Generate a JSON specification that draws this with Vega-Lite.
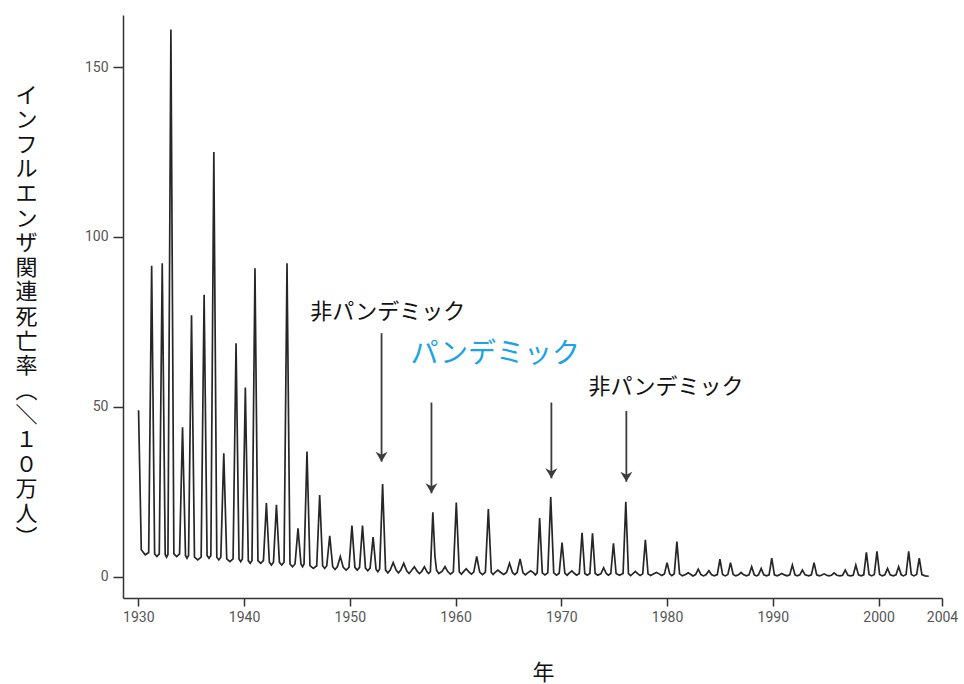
{
  "$schema": "https://vega.github.io/schema/vega-lite/v6.json",
  "width": 819,
  "height": 583,
  "autosize": {"type": "none"},
  "padding": {"left": 123, "top": 15, "right": 22, "bottom": 86},
  "background": "white",
  "config": {"view": {"stroke": null}},
  "datasets": {
    "series": [
      {"t":1930.02,"v":49},{"t":1930.28,"v":8},{"t":1930.65,"v":6.5},
      {"t":1930.98,"v":7.2},{"t":1931.26,"v":91.5},{"t":1931.54,"v":6.8},{"t":1931.76,"v":6},
      {"t":1931.98,"v":6.8},{"t":1932.26,"v":92.3},{"t":1932.54,"v":6.6},{"t":1932.67,"v":5.8},
      {"t":1932.8,"v":6.6},{"t":1933.08,"v":161},{"t":1933.36,"v":6.8},{"t":1933.63,"v":6},
      {"t":1933.9,"v":6.8},{"t":1934.18,"v":44},{"t":1934.46,"v":6.3},{"t":1934.6,"v":5.5},
      {"t":1934.75,"v":6.3},{"t":1935.03,"v":77},{"t":1935.31,"v":5.8},{"t":1935.62,"v":5},
      {"t":1935.94,"v":5.8},{"t":1936.22,"v":83},{"t":1936.5,"v":6.3},{"t":1936.68,"v":5.5},
      {"t":1936.86,"v":6.3},{"t":1937.14,"v":125},{"t":1937.42,"v":5.8},{"t":1937.61,"v":5},
      {"t":1937.8,"v":5.8},{"t":1938.08,"v":36.4},{"t":1938.36,"v":5.3},{"t":1938.66,"v":4.5},
      {"t":1938.96,"v":5.3},{"t":1939.24,"v":68.7},{"t":1939.52,"v":5.3},{"t":1939.68,"v":4.5},
      {"t":1939.84,"v":5.3},{"t":1940.12,"v":55.7},{"t":1940.4,"v":4.8},{"t":1940.58,"v":4},
      {"t":1940.75,"v":4.8},{"t":1941.03,"v":90.8},{"t":1941.31,"v":4.8},{"t":1941.57,"v":4},
      {"t":1941.83,"v":4.8},{"t":1942.11,"v":21.7},{"t":1942.39,"v":4.3},{"t":1942.58,"v":3.5},
      {"t":1942.78,"v":4.3},{"t":1943.06,"v":21.2},{"t":1943.34,"v":4.3},{"t":1943.56,"v":3.5},
      {"t":1943.78,"v":4.3},{"t":1944.06,"v":92.3},{"t":1944.34,"v":3.8},{"t":1944.58,"v":3},
      {"t":1944.82,"v":3.8},{"t":1945.1,"v":14.3},{"t":1945.38,"v":3.8},{"t":1945.53,"v":3},
      {"t":1945.67,"v":3.8},{"t":1945.95,"v":36.9},{"t":1946.23,"v":3.3},{"t":1946.55,"v":2.5},
      {"t":1946.87,"v":3.3},{"t":1947.15,"v":24.1},{"t":1947.43,"v":3.3},{"t":1947.62,"v":2.5},
      {"t":1947.82,"v":3.3},{"t":1948.1,"v":12.1},{"t":1948.38,"v":3},{"t":1948.6,"v":2.2},
      {"t":1948.82,"v":3},{"t":1949.1,"v":6},{"t":1949.38,"v":2.8},{"t":1949.65,"v":2},
      {"t":1949.92,"v":2.8},{"t":1950.2,"v":15.1},{"t":1950.48,"v":2.8},{"t":1950.7,"v":2},
      {"t":1950.92,"v":2.8},{"t":1951.2,"v":15.1},{"t":1951.48,"v":2.6},{"t":1951.7,"v":1.8},
      {"t":1951.92,"v":2.6},{"t":1952.2,"v":11.7},{"t":1952.48,"v":2.3},{"t":1952.65,"v":1.5},
      {"t":1952.82,"v":2.3},{"t":1953.1,"v":27.3},{"t":1953.38,"v":2},{"t":1953.6,"v":1.2},
      {"t":1953.82,"v":2},{"t":1954.1,"v":4.2},{"t":1954.38,"v":2},{"t":1954.6,"v":1.2},
      {"t":1954.82,"v":2},{"t":1955.1,"v":4},{"t":1955.38,"v":1.8},{"t":1955.6,"v":1},
      {"t":1955.82,"v":1.8},{"t":1956.1,"v":3},{"t":1956.38,"v":1.6},{"t":1956.58,"v":1},
      {"t":1956.8,"v":1.6},{"t":1957.05,"v":3},{"t":1957.3,"v":1.5},{"t":1957.45,"v":1},
      {"t":1957.62,"v":1.6},{"t":1957.85,"v":19},{"t":1958.05,"v":6},{"t":1958.2,"v":2},{"t":1958.42,"v":1},
      {"t":1958.72,"v":1.6},{"t":1959.0,"v":3},{"t":1959.28,"v":1.5},{"t":1959.52,"v":0.8},
      {"t":1959.79,"v":1.5},{"t":1960.07,"v":21.9},{"t":1960.35,"v":1.5},{"t":1960.55,"v":0.8},
      {"t":1960.72,"v":1.4},{"t":1961.0,"v":2.4},{"t":1961.28,"v":1.4},{"t":1961.5,"v":0.8},
      {"t":1961.72,"v":1.4},{"t":1962.0,"v":6},{"t":1962.28,"v":1.4},{"t":1962.55,"v":0.7},
      {"t":1962.82,"v":1.4},{"t":1963.1,"v":20},{"t":1963.38,"v":1.3},{"t":1963.55,"v":0.7},
      {"t":1963.72,"v":1.3},{"t":1964.0,"v":2},{"t":1964.28,"v":1.3},{"t":1964.55,"v":0.7},
      {"t":1964.82,"v":1.3},{"t":1965.1,"v":4},{"t":1965.38,"v":1.3},{"t":1965.6,"v":0.7},
      {"t":1965.82,"v":1.3},{"t":1966.1,"v":5.3},{"t":1966.38,"v":1.2},{"t":1966.6,"v":0.6},
      {"t":1966.82,"v":1.2},{"t":1967.1,"v":1.8},{"t":1967.38,"v":1.2},{"t":1967.55,"v":0.6},
      {"t":1967.72,"v":1.2},{"t":1967.95,"v":17.3},{"t":1968.2,"v":1.2},{"t":1968.45,"v":0.6},
      {"t":1968.72,"v":1.2},{"t":1969.0,"v":23.5},{"t":1969.28,"v":1.2},{"t":1969.55,"v":0.5},
      {"t":1969.8,"v":1.1},{"t":1970.07,"v":10.1},{"t":1970.33,"v":1.1},{"t":1970.55,"v":0.5},
      {"t":1970.75,"v":1.1},{"t":1971.0,"v":1.8},{"t":1971.25,"v":1},{"t":1971.45,"v":0.5},
      {"t":1971.7,"v":1},{"t":1971.96,"v":13},{"t":1972.22,"v":1},{"t":1972.45,"v":0.5},
      {"t":1972.7,"v":1},{"t":1972.95,"v":12.8},{"t":1973.2,"v":1},{"t":1973.45,"v":0.5},
      {"t":1973.75,"v":1},{"t":1974.0,"v":2.7},{"t":1974.25,"v":1},{"t":1974.45,"v":0.5},
      {"t":1974.68,"v":1},{"t":1974.93,"v":9.9},{"t":1975.18,"v":1},{"t":1975.5,"v":0.5},
      {"t":1975.84,"v":1},{"t":1976.1,"v":22.1},{"t":1976.35,"v":1},{"t":1976.55,"v":0.4},
      {"t":1976.75,"v":0.9},{"t":1977.0,"v":1.6},{"t":1977.25,"v":0.9},{"t":1977.45,"v":0.4},
      {"t":1977.7,"v":0.9},{"t":1977.95,"v":10.9},{"t":1978.2,"v":0.9},{"t":1978.45,"v":0.4},
      {"t":1978.75,"v":0.9},{"t":1979.0,"v":1.3},{"t":1979.25,"v":0.9},{"t":1979.5,"v":0.4},
      {"t":1979.75,"v":0.9},{"t":1980.0,"v":4.2},{"t":1980.25,"v":0.9},{"t":1980.45,"v":0.4},
      {"t":1980.68,"v":0.9},{"t":1980.93,"v":10.4},{"t":1981.18,"v":0.9},{"t":1981.45,"v":0.3},
      {"t":1981.75,"v":0.7},{"t":1982.0,"v":1.2},{"t":1982.25,"v":0.7},{"t":1982.45,"v":0.3},
      {"t":1982.7,"v":0.7},{"t":1982.95,"v":2.3},{"t":1983.2,"v":0.7},{"t":1983.45,"v":0.3},
      {"t":1983.7,"v":0.7},{"t":1983.95,"v":1.8},{"t":1984.2,"v":0.7},{"t":1984.45,"v":0.3},
      {"t":1984.75,"v":0.7},{"t":1985.0,"v":5.2},{"t":1985.25,"v":0.7},{"t":1985.5,"v":0.3},
      {"t":1985.75,"v":0.7},{"t":1986.0,"v":4.2},{"t":1986.25,"v":0.7},{"t":1986.5,"v":0.3},
      {"t":1986.75,"v":0.6},{"t":1987.0,"v":1.3},{"t":1987.25,"v":0.6},{"t":1987.5,"v":0.3},
      {"t":1987.75,"v":0.6},{"t":1988.0,"v":3},{"t":1988.25,"v":0.6},{"t":1988.45,"v":0.3},
      {"t":1988.65,"v":0.6},{"t":1988.9,"v":2.5},{"t":1989.15,"v":0.6},{"t":1989.4,"v":0.3},
      {"t":1989.65,"v":0.6},{"t":1989.9,"v":5.5},{"t":1990.15,"v":0.6},{"t":1990.4,"v":0.3},
      {"t":1990.6,"v":0.6},{"t":1990.85,"v":1},{"t":1991.1,"v":0.6},{"t":1991.35,"v":0.3},
      {"t":1991.6,"v":0.6},{"t":1991.85,"v":3.5},{"t":1992.1,"v":0.6},{"t":1992.3,"v":0.3},
      {"t":1992.55,"v":0.6},{"t":1992.8,"v":2},{"t":1993.05,"v":0.6},{"t":1993.4,"v":0.3},
      {"t":1993.65,"v":0.6},{"t":1993.9,"v":4.2},{"t":1994.15,"v":0.6},{"t":1994.4,"v":0.3},
      {"t":1994.6,"v":0.5},{"t":1994.85,"v":0.9},{"t":1995.1,"v":0.5},{"t":1995.3,"v":0.3},
      {"t":1995.55,"v":0.5},{"t":1995.8,"v":1.2},{"t":1996.05,"v":0.5},{"t":1996.35,"v":0.3},
      {"t":1996.6,"v":0.5},{"t":1996.85,"v":2},{"t":1997.1,"v":0.5},{"t":1997.35,"v":0.3},
      {"t":1997.6,"v":0.5},{"t":1997.85,"v":3.5},{"t":1998.1,"v":0.6},{"t":1998.35,"v":0.3},
      {"t":1998.6,"v":0.6},{"t":1998.85,"v":7.2},{"t":1999.1,"v":0.7},{"t":1999.35,"v":0.3},
      {"t":1999.6,"v":0.7},{"t":1999.85,"v":7.5},{"t":2000.1,"v":0.7},{"t":2000.35,"v":0.3},
      {"t":2000.6,"v":0.6},{"t":2000.85,"v":2.5},{"t":2001.1,"v":0.6},{"t":2001.4,"v":0.3},
      {"t":2001.65,"v":0.6},{"t":2001.9,"v":3},{"t":2002.15,"v":0.6},{"t":2002.35,"v":0.3},
      {"t":2002.6,"v":0.7},{"t":2002.85,"v":7.5},{"t":2003.1,"v":0.7},{"t":2003.35,"v":0.3},
      {"t":2003.6,"v":0.7},{"t":2003.85,"v":5.5},{"t":2004.1,"v":0.7},{"t":2004.4,"v":0.3},
      {"t":2004.75,"v":0.2}
    ],
    "arrows": [
      {"t":1953.0,"top":71.7,"tip":33.9},
      {"t":1957.72,"top":51.3,"tip":24.6},
      {"t":1969.06,"top":51.3,"tip":29.0},
      {"t":1976.15,"top":48.8,"tip":28.0}
    ],
    "labels": [
      {"t":1953.59,"v":77.9,"label":"非パンデミック","kind":"non"},
      {"t":1979.9,"v":55.9,"label":"非パンデミック","kind":"non"},
      {"t":1963.75,"v":65.3,"label":"パンデミック","kind":"pandemic"}
    ]
  },
  "layer": [
    {
      "data": {"name": "series"},
      "mark": {"type": "line", "color": "#262626", "strokeWidth": 1.7, "interpolate": "linear"},
      "encoding": {
        "x": {
          "field": "t", "type": "quantitative",
          "scale": {"domain": [1928.55, 2006], "nice": false, "zero": false},
          "axis": {
            "values": [1930, 1940, 1950, 1960, 1970, 1980, 1990, 2000, 2006],
            "labelExpr": "datum.value == 2006 ? '2004' : format(datum.value, 'd')",
            "labelFlush": false,
            "labelOverlap": false,
            "grid": false,
            "domainColor": "#333333", "domainWidth": 1.5,
            "tickColor": "#333333", "tickWidth": 1.5, "tickSize": 8,
            "labelColor": "#555555", "labelFontSize": 14, "labelPadding": 4,
            "labelFont": "Liberation Sans Narrow, Roboto, sans-serif",
            "title": "年",
            "titleFont": "Noto Sans CJK JP", "titleFontSize": 22, "titleFontWeight": "normal",
            "titleColor": "#111111", "titleX": 420, "titleY": 74, "titleBaseline": "middle", "titleAlign": "center"
          }
        },
        "y": {
          "field": "v", "type": "quantitative",
          "scale": {"domain": [-6.2, 165.3], "nice": false, "zero": false},
          "axis": {
            "values": [0, 50, 100, 150],
            "grid": false,
            "domainColor": "#333333", "domainWidth": 1.5,
            "tickColor": "#333333", "tickWidth": 1.5, "tickSize": 10,
            "labelColor": "#555555", "labelFontSize": 14, "labelPadding": 5,
            "labelFont": "Liberation Sans Narrow, Roboto, sans-serif",
            "title": ["イ","ン","フ","ル","エ","ン","ザ","関","連","死","亡","率","︵","＼","１","０","万","人","︶"],
            "titleAngle": 0,
            "titleFont": "Noto Sans CJK JP", "titleFontSize": 22, "titleFontWeight": "normal",
            "titleColor": "#111111", "titleLineHeight": 24.6,
            "titleX": -97, "titleY": 80, "titleAlign": "center", "titleBaseline": "middle"
          }
        }
      }
    },
    {
      "data": {"name": "arrows"},
      "mark": {"type": "rule", "color": "#3c3c3c", "strokeWidth": 1.8},
      "encoding": {
        "x": {"field": "t", "type": "quantitative"},
        "y": {"field": "top", "type": "quantitative"},
        "y2": {"field": "tip"}
      }
    },
    {
      "data": {"name": "arrows"},
      "mark": {"type": "point", "shape": "M-1.2,-2L0,0L1.2,-2L0,-1.4Z", "filled": true, "color": "#3c3c3c", "size": 100, "opacity": 1},
      "encoding": {
        "x": {"field": "t", "type": "quantitative"},
        "y": {"field": "tip", "type": "quantitative"}
      }
    },
    {
      "data": {"name": "labels"},
      "transform": [{"filter": "datum.kind == 'non'"}],
      "mark": {"type": "text", "font": "Noto Sans CJK JP", "fontSize": 22, "color": "#111111", "align": "center", "baseline": "middle"},
      "encoding": {
        "x": {"field": "t", "type": "quantitative"},
        "y": {"field": "v", "type": "quantitative"},
        "text": {"field": "label"}
      }
    },
    {
      "data": {"name": "labels"},
      "transform": [{"filter": "datum.kind == 'pandemic'"}],
      "mark": {"type": "text", "font": "Noto Sans CJK JP", "fontSize": 28, "color": "#1ba3e6", "align": "center", "baseline": "middle"},
      "encoding": {
        "x": {"field": "t", "type": "quantitative"},
        "y": {"field": "v", "type": "quantitative"},
        "text": {"field": "label"}
      }
    }
  ]
}
